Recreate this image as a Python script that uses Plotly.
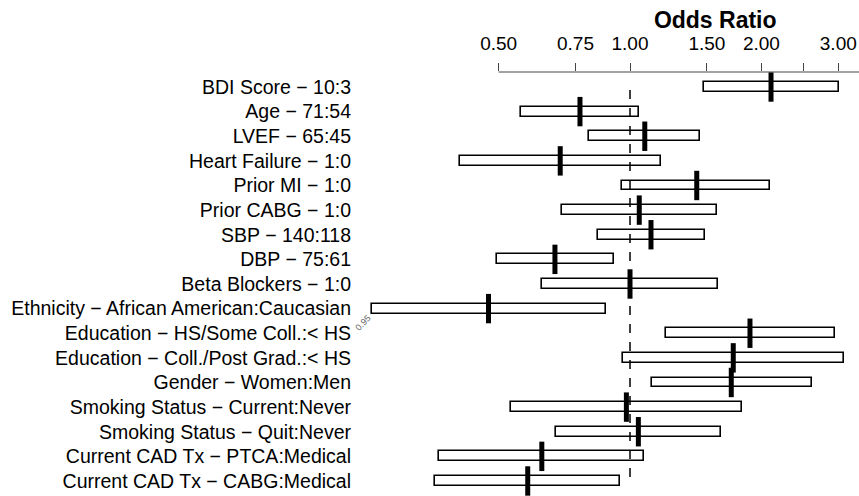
import plotly.graph_objects as go
import math

labels = [
    "BDI Score − 10:3",
    "Age − 71:54",
    "LVEF − 65:45",
    "Heart Failure − 1:0",
    "Prior MI − 1:0",
    "Prior CABG − 1:0",
    "SBP − 140:118",
    "DBP − 75:61",
    "Beta Blockers − 1:0",
    "Ethnicity − African American:Caucasian",
    "Education − HS/Some Coll.:< HS",
    "Education − Coll./Post Grad.:< HS",
    "Gender − Women:Men",
    "Smoking Status − Current:Never",
    "Smoking Status − Quit:Never",
    "Current CAD Tx − PTCA:Medical",
    "Current CAD Tx − CABG:Medical",
]
odds_ratio = [2.104, 0.768, 1.081, 0.692, 1.422, 1.050, 1.117, 0.673, 1.000,
              0.474, 1.883, 1.724, 1.706, 0.981, 1.045, 0.628, 0.583]
lower_95 = [1.477, 0.562, 0.805, 0.408, 0.960, 0.700, 0.843, 0.495, 0.630,
            0.256, 1.207, 0.962, 1.123, 0.533, 0.677, 0.366, 0.358]
upper_95 = [3.007, 1.049, 1.447, 1.178, 2.093, 1.582, 1.483, 0.918, 1.591,
            0.880, 2.944, 3.097, 2.608, 1.805, 1.616, 1.077, 0.949]

tick_vals = [0.5, 0.75, 1.0, 1.5, 2.0, 2.5, 3.0]
tick_text = ["0.50", "0.75", "1.00", "1.50", "2.00", "", "3.00"]
conf_label = "0.95"

rows = list(range(len(labels)))
font = "Liberation Sans, Arial, sans-serif"

fig = go.Figure()
fig.add_trace(go.Bar(
    y=rows, x=[u - l for u, l in zip(upper_95, lower_95)], base=lower_95,
    orientation="h", width=0.4,
    marker=dict(color="white", line=dict(color="black", width=1.6)),
    showlegend=False, hoverinfo="skip",
))
fig.add_trace(go.Scatter(
    y=rows, x=odds_ratio, mode="markers",
    marker=dict(symbol="line-ns", size=21, color="black",
                line=dict(color="black", width=5)),
    showlegend=False,
))

xlo, xhi = -0.614, 0.5246
# dashed reference line at OR = 1
fig.add_shape(type="line", xref="x", yref="y", x0=1.0, x1=1.0, y0=0.12, y1=16.05,
              line=dict(color="black", width=1.5, dash="dash"))
# top axis line from first tick to right edge
fig.add_shape(type="line", xref="x", yref="paper", x0=tick_vals[0], x1=10 ** xhi,
              y0=1, y1=1, line=dict(color="#444", width=1))

fig.add_annotation(x=math.log10(lower_95[9]), y=9, text=conf_label, showarrow=False,
                   textangle=-45, xanchor="center", yanchor="middle",
                   xshift=-9, yshift=-14,
                   font=dict(family=font, size=9, color="#666"))

fig.update_layout(
    width=859, height=496,
    margin=dict(l=362, r=0, t=72, b=0),
    plot_bgcolor="white", paper_bgcolor="white",
    bargap=0,
    title=dict(text="<b>Odds Ratio</b>", x=0.7107, xanchor="center", xref="paper",
               y=1 - 20 / 496, yanchor="middle", yref="container",
               font=dict(family=font, size=23, color="black")),
    xaxis=dict(type="log", range=[xlo, xhi], side="top", automargin=False,
               tickvals=tick_vals, ticktext=tick_text,
               ticks="outside", ticklen=8, tickcolor="#444", tickwidth=1,
               ticklabelstandoff=5,
               showline=False, showgrid=False, zeroline=False,
               tickfont=dict(family=font, size=19, color="black")),
    yaxis=dict(range=[16.61, -0.609], tickvals=rows, ticktext=labels, automargin=False,
               ticks="", showgrid=False, zeroline=False, showline=False,
               ticklabelstandoff=10,
               tickfont=dict(family=font, size=19.5, color="black")),
)

fig.write_html("out.html", config={"displayModeBar": False},
               post_script="document.body.style.margin='0';")
